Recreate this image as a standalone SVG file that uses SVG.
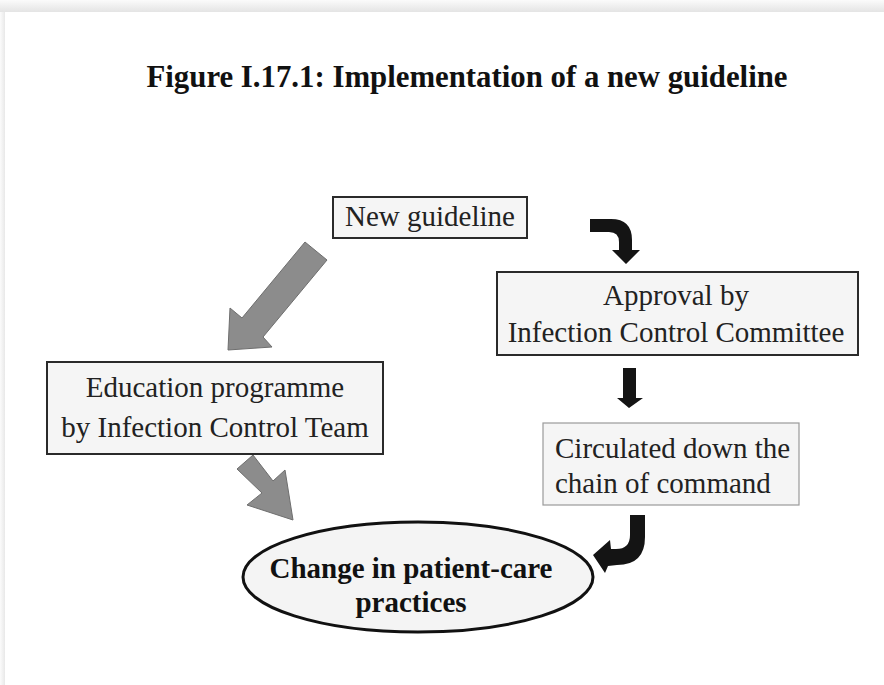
<svg xmlns="http://www.w3.org/2000/svg" width="884" height="685" viewBox="0 0 884 685">
  <defs>
    <linearGradient id="shadeTop" x1="0" y1="0" x2="0" y2="1">
      <stop offset="0" stop-color="#fbfbfb"/>
      <stop offset="1" stop-color="#e4e4e4"/>
    </linearGradient>
    <linearGradient id="shadeLeft" x1="0" y1="0" x2="1" y2="0">
      <stop offset="0" stop-color="#fbfbfb"/>
      <stop offset="1" stop-color="#e8e8e8"/>
    </linearGradient>
    <style>
      .box { fill: #f5f5f5; stroke: #2a2a2a; stroke-width: 2; }
      .box-light { fill: #f5f5f5; stroke: #9a9a9a; stroke-width: 1.2; }
      .label { font-family: "Liberation Serif", "Times New Roman", serif; font-size: 29px; fill: #222; }
      .bold { font-weight: bold; fill: #111; }
      .title { font-size: 30.8px; }
      .grey-arrow { fill: #8c8c8c; stroke: #6e6e6e; stroke-width: 1; stroke-linejoin: round; }
      .black-arrow { fill: #141414; stroke: none; }
    </style>
  </defs>

  <!-- page and its edge shading -->
  <rect x="0" y="0" width="884" height="685" fill="#ffffff"/>
  <rect x="0" y="0" width="884" height="12" fill="url(#shadeTop)"/>
  <rect x="0" y="12" width="5" height="673" fill="url(#shadeLeft)"/>

  <!-- title -->
  <text x="467" y="87" text-anchor="middle" class="label bold title">Figure I.17.1: Implementation of a new guideline</text>

  <!-- connectors -->
  <g id="connectors">
    <!-- guideline to education programme -->
    <path class="grey-arrow" d="M305,242 L327,260 L263,337 L272,347 L228,350 L230,308 L242,318 Z"/>
    <!-- education programme to change in practices -->
    <path class="grey-arrow" d="M253,455 L237,469 L262,493 L247,505 L293,520 L285,470 L273,481 Z"/>
    <!-- guideline to approval -->
    <path class="black-arrow" d="M590,219 L611,219 Q632,219 632,240 L632,250 L640,250 L626,264 L612,250 L619,250 L619,242 Q619,232 609,232 L590,232 Z"/>
    <!-- approval to circulation -->
    <path class="black-arrow" d="M623,368 L636,368 L636,398 L643,398 L629,408 L617,398 L623,398 Z"/>
    <!-- circulation to change in practices -->
    <path class="black-arrow" d="M630,515 L645,515 L645,537 Q645,565 617,565 L608,566 L605,573 L593,555 L610,540 L611,549 L616,549 Q630,549 630,535 Z"/>
  </g>

  <g id="node-new-guideline">
    <rect class="box" x="333" y="197" width="194" height="41"/>
    <text class="label" x="430" y="226" text-anchor="middle">New guideline</text>
  </g>

  <g id="node-approval">
    <rect class="box" x="497" y="272" width="361" height="83"/>
    <text class="label" x="676" y="305" text-anchor="middle">Approval by</text>
    <text class="label" x="676" y="342" text-anchor="middle">Infection Control Committee</text>
  </g>

  <g id="node-education">
    <rect class="box" x="47" y="362" width="336" height="92"/>
    <text class="label" x="215" y="397" text-anchor="middle">Education programme</text>
    <text class="label" x="215" y="437" text-anchor="middle">by Infection Control Team</text>
  </g>

  <g id="node-circulated">
    <rect class="box-light" x="543" y="423" width="256" height="82"/>
    <text class="label" x="555" y="458">Circulated down the</text>
    <text class="label" x="555" y="493">chain of command</text>
  </g>

  <g id="node-change">
    <ellipse cx="418" cy="577" rx="175" ry="55" fill="#f4f4f4" stroke="#111" stroke-width="3"/>
    <text class="label bold" x="411" y="578" text-anchor="middle">Change in patient-care</text>
    <text class="label bold" x="411" y="612" text-anchor="middle">practices</text>
  </g>
</svg>
